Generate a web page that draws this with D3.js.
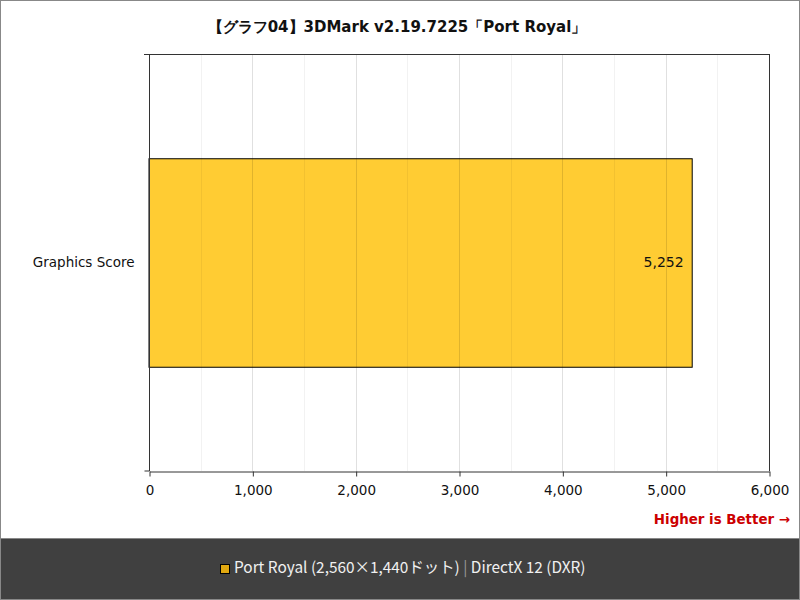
<!DOCTYPE html>
<html>
<head>
<meta charset="utf-8">
<script src="https://cdn.jsdelivr.net/npm/d3@7"></script>
<style>
  html, body { margin: 0; padding: 0; background: #fff; }
  svg { display: block; font-family: "DejaVu Sans", Verdana, sans-serif; }
</style>
</head>
<body>
<div id="chart"></div>
<script>
// chart data
const chartTitle = "【グラフ04】3DMark v2.19.7225「Port Royal」";
const categories = ["Graphics Score"];
const scores = [5252];
const xTicks = [0, 1000, 2000, 3000, 4000, 5000, 6000];
const minorTicks = [500, 1500, 2500, 3500, 4500, 5500];
const legendMain = "Port Royal (2,560×1,440ドット)";
const legendSub = "DirectX 12 (DXR)";

const W = 800, H = 600;
const margin = { top: 54, right: 31, bottom: 129, left: 149 };
const innerW = W - margin.left - margin.right;
const innerH = H - margin.top - margin.bottom;

const svg = d3.select("#chart").append("svg")
  .attr("width", W).attr("height", H);

// outer frame
svg.append("rect")
  .attr("x", 0.5).attr("y", 0.5)
  .attr("width", W - 1).attr("height", H - 1)
  .attr("fill", "#fff").attr("stroke", "#888");

// title
svg.append("text")
  .attr("x", W / 2 - 3).attr("y", 32)
  .attr("text-anchor", "middle")
  .style("font-size", "15px").style("font-weight", "bold")
  .style("fill", "#111")
  .text(chartTitle);

const g = svg.append("g").attr("transform", `translate(${margin.left},${margin.top})`);

const x = d3.scaleLinear().domain([0, 6000]).range([0, innerW]);
const y = d3.scaleBand().domain(categories).range([0, innerH]).paddingInner(0.5).paddingOuter(0.25);

// bar (grid drawn faintly over it, as in the original)
g.selectAll("rect.bar").data(scores).enter().append("rect")
  .attr("class", "bar")
  .attr("x", x(0))
  .attr("y", (d, i) => y(categories[i]) + 0.5)
  .attr("width", (d) => x(d) - x(0) + 0.5)
  .attr("height", y.bandwidth())
  .attr("fill", "#ffcc33")
  .attr("stroke", "#000").attr("stroke-width", 1);

// grid
g.selectAll("line.minor").data(minorTicks).enter().append("line")
  .attr("x1", (d) => Math.round(x(d)) + 0.5).attr("x2", (d) => Math.round(x(d)) + 0.5)
  .attr("y1", 0).attr("y2", innerH)
  .attr("stroke", "#000").attr("stroke-opacity", 0.05);
g.selectAll("line.major").data(xTicks.slice(1, -1)).enter().append("line")
  .attr("x1", (d) => Math.round(x(d)) + 0.5).attr("x2", (d) => Math.round(x(d)) + 0.5)
  .attr("y1", 0).attr("y2", innerH)
  .attr("stroke", "#000").attr("stroke-opacity", 0.12);

// plot frame: top + right
g.append("line").attr("x1", -5).attr("x2", innerW).attr("y1", 0.5).attr("y2", 0.5).attr("stroke", "#333");
g.append("line").attr("x1", innerW + 0.5).attr("x2", innerW + 0.5).attr("y1", 0).attr("y2", innerH).attr("stroke", "#333");

// x axis
const xAxis = g.append("g").attr("transform", `translate(0.5,${innerH + 0.5})`)
  .call(d3.axisBottom(x).tickValues(xTicks).tickFormat(d3.format(",")).tickSizeOuter(0).tickSizeInner(5).tickPadding(9));
xAxis.attr("font-family", null).attr("font-size", null);
xAxis.select(".domain").attr("stroke", "#333");
xAxis.selectAll(".tick line").attr("stroke", "#333");
xAxis.selectAll("text").style("font-size", "13.5px").style("fill", "#111");

// y axis
const yAxis = g.append("g").attr("transform", "translate(0.5,0)")
  .call(d3.axisLeft(y).tickSize(0).tickPadding(15));
yAxis.attr("font-family", null).attr("font-size", null);
yAxis.select(".domain").attr("stroke", "#333").attr("d", `M-5,0.5H0V${innerH}H-5`);
yAxis.selectAll("text").style("font-size", "13.5px").style("fill", "#111");

// value label
g.selectAll("text.val").data(scores).enter().append("text")
  .attr("class", "val")
  .attr("x", (d) => x(d) - 8)
  .attr("y", (d, i) => y(categories[i]) + y.bandwidth() / 2)
  .attr("dy", "0.35em")
  .attr("text-anchor", "end")
  .style("font-size", "14px").style("fill", "#111")
  .text(d3.format(","));

// higher is better
svg.append("text")
  .attr("x", 790).attr("y", 524)
  .attr("text-anchor", "end")
  .style("font-size", "13.4px").style("font-weight", "bold")
  .style("fill", "#cc0000")
  .text("Higher is Better →");

// footer legend
svg.append("rect")
  .attr("x", 0.5).attr("y", 538.5)
  .attr("width", W - 1).attr("height", H - 539)
  .attr("fill", "#404040").attr("stroke", "#888");
svg.append("rect")
  .attr("x", 220.5).attr("y", 564.5)
  .attr("width", 9).attr("height", 9)
  .attr("fill", "#e0a810").attr("stroke", "#000");
const leg = svg.append("text")
  .attr("x", 234).attr("y", 573)
  .style("font-family", "'Noto Sans CJK JP', 'Noto Sans', sans-serif")
  .style("font-size", "15.4px").style("fill", "#f0f0f0");
leg.append("tspan").text(legendMain + " ");
leg.append("tspan").style("fill", "#999").text("|");
leg.append("tspan").text(" " + legendSub);
</script>
</body>
</html>
